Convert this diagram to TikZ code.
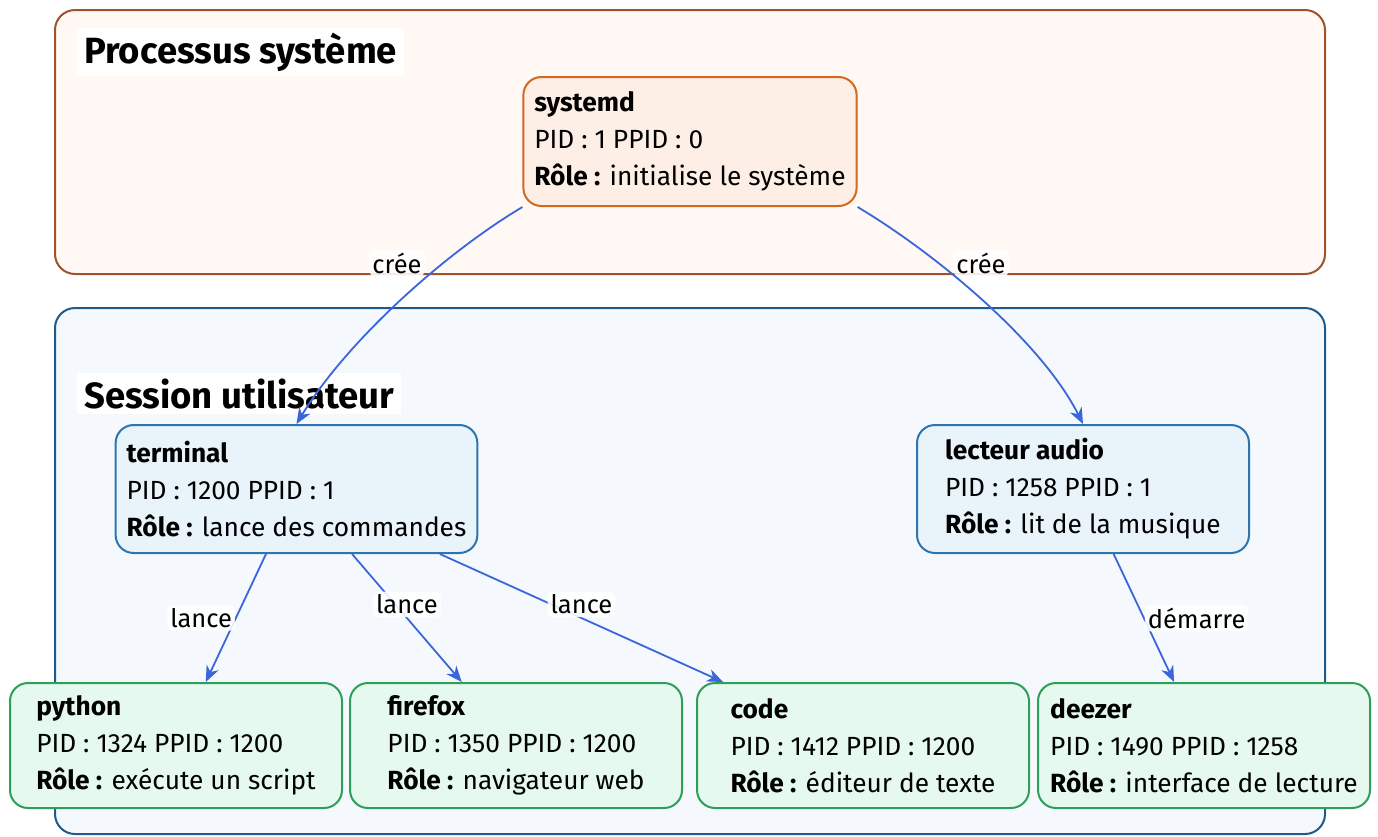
\documentclass[tikz,border=0pt]{standalone}
\usepackage{fontspec}
\setmainfont{Fira Sans}
\usetikzlibrary{arrows.meta,calc}

\definecolor{sysfill}{HTML}{FFF8F4}
\definecolor{sysdraw}{HTML}{A0522D}
\definecolor{usrfill}{HTML}{F5F9FD}
\definecolor{usrdraw}{HTML}{1F5A8A}
\definecolor{rootfill}{HTML}{FDEFE5}
\definecolor{rootdraw}{HTML}{D2691E}
\definecolor{sessfill}{HTML}{E8F3FA}
\definecolor{sessdraw}{HTML}{2E75B0}
\definecolor{appfill}{HTML}{E6F9EE}
\definecolor{appdraw}{HTML}{2E9E5B}
\definecolor{linkcol}{HTML}{3B66DA}

\begin{document}
\begin{tikzpicture}[x=1pt,y=-1pt,
  zone/.style={line width=2pt, rounded corners=20pt, inner sep=0pt},
  zonetitle/.style={fill=white, anchor=base west, inner xsep=7pt, inner ysep=5pt,
    font=\fontsize{36.5}{42}\selectfont\bfseries},
  proc/.style={line width=2pt, rounded corners=18pt, align=left,
    minimum width=332pt, inner xsep=11pt, inner ysep=0pt,
    font=\fontsize{26.3}{37}\selectfont},
  rootproc/.style={proc, fill=rootfill, draw=rootdraw, minimum height=129pt},
  sessproc/.style={proc, fill=sessfill, draw=sessdraw, minimum height=128pt},
  appproc/.style={proc, fill=appfill, draw=appdraw, minimum height=125pt},
  link/.style={draw=linkcol, line width=1.8pt,
    -{Stealth[length=16pt,width=13pt,inset=5pt]}},
  lbl/.style={fill=white, fill opacity=0.88, text opacity=1, rounded corners=5pt,
    inner xsep=3pt, inner ysep=3pt, font=\fontsize{25.5}{30}\selectfont}
]
\useasboundingbox (0,0) rectangle (1378,836);

% the two zones
\node[zone, fill=sysfill, draw=sysdraw, minimum width=1270pt, minimum height=264pt]
  (syszone) at (690,142) {};
\node[zone, fill=usrfill, draw=usrdraw, minimum width=1270pt, minimum height=526pt]
  (usrzone) at (690,571) {};
\node[zonetitle] (systitle) at (77,63) {Processus système};
\node[zonetitle] (usrtitle) at (77,408) {Session utilisateur};

% processes
\node[rootproc] (systemd) at (690,141.5)
  {\textbf{systemd}\\PID : 1 PPID : 0\\\textbf{Rôle :} initialise le système};
\node[sessproc] (terminal) at (296.5,489)
  {\textbf{terminal}\\PID : 1200 PPID : 1\\\textbf{Rôle :} lance des commandes};
\node[sessproc] (lecteur) at (1083,489)
  {\textbf{lecteur audio}\\PID : 1258 PPID : 1\\\textbf{Rôle :} lit de la musique};
\node[appproc] (python) at (176,745.5)
  {\textbf{python}\\PID : 1324 PPID : 1200\\\textbf{Rôle :} exécute un script};
\node[appproc] (firefox) at (516,745.5)
  {\textbf{firefox}\\PID : 1350 PPID : 1200\\\textbf{Rôle :} navigateur web};
\node[appproc] (code) at (863,745.5)
  {\textbf{code}\\PID : 1412 PPID : 1200\\\textbf{Rôle :} éditeur de texte};
\node[appproc] (deezer) at (1204,745.5)
  {\textbf{deezer}\\PID : 1490 PPID : 1258\\\textbf{Rôle :} interface de lecture};

% parent -> child links
\draw[link] (systemd.south west) .. controls +(-82,49) and +(48.5,-80) .. (terminal.north);
\draw[link] (systemd.south east) .. controls +(82,49) and +(-40,-80) .. (lecteur.north);
\node[lbl] (cree1) at (397,263) {crée};
\node[lbl] (cree2) at (981,263) {crée};

\draw[link] (terminal) -- node[lbl, left] (lpy) {lance} (python);
\draw[link] (terminal) -- node[lbl, above] (lff) {lance} (firefox);
\draw[link] (terminal) -- node[lbl, above] (lcode) {lance} (code);
\draw[link] (lecteur) -- node[lbl, right] (ldz) {démarre} (deezer);
\end{tikzpicture}
\end{document}
